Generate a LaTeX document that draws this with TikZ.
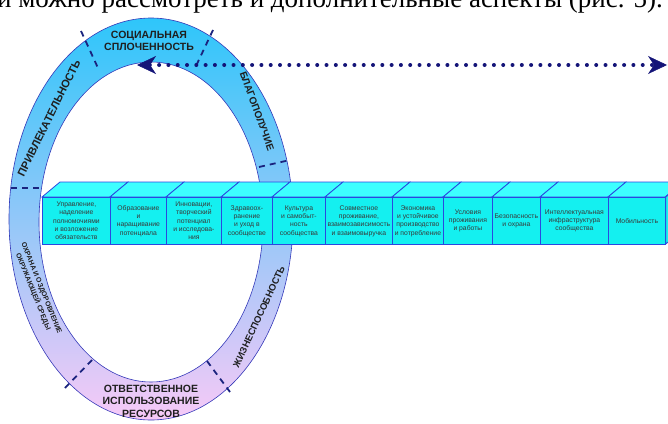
\documentclass[tikz,border=0pt]{standalone}
\usepackage{fontspec}
\setmainfont{Liberation Sans}
\newfontfamily\pageserif{Liberation Serif}
\usetikzlibrary{arrows.meta}
\definecolor{ringtop}{HTML}{2EC6FA}
\definecolor{ringmid}{HTML}{B2B9F7}
\definecolor{ringbot}{HTML}{F7C9F7}
\definecolor{ringline}{HTML}{3438B8}
\definecolor{dashnavy}{HTML}{1A237E}
\definecolor{boxfront}{HTML}{14F0F0}
\definecolor{boxtop}{HTML}{3DFFFF}
\definecolor{boxline}{HTML}{2A48E0}
\definecolor{arrownavy}{HTML}{141478}

\tikzset{
  ringlabel/.style={font=\fontsize{10.5}{12.5}\selectfont\bfseries, text=black!88, align=center, inner sep=0pt},
  sepline/.style={dashnavy, line width=1.8pt, dash pattern=on 6pt off 5pt},
  boxface/.style={draw=boxline, line width=0.8pt, fill=boxfront, minimum height=47pt, inner sep=1pt,
    align=center, font=\fontsize{6.8}{8.3}\selectfont, text=black!78, anchor=north west},
  boxlid/.style={draw=boxline, line width=0.8pt, fill=boxtop},
  dotarrow/.style={arrownavy, line width=4pt, line cap=round, dash pattern=on 0pt off 9.3pt,
    {Stealth[length=19pt,width=18pt,inset=6pt,line width=0.5pt]}-{Stealth[length=19pt,width=18pt,inset=6pt,line width=0.5pt]}}
}

\begin{document}
\begin{tikzpicture}[x=1pt,y=-1pt]
  \useasboundingbox (0,0) rectangle (668,423);
  \clip (0,0) rectangle (668,423);

  \node[font=\pageserif\fontsize{27}{30}\selectfont, anchor=base east, inner sep=0pt] (pageline) at (663,7)
    {и можно рассмотреть и дополнительные аспекты (рис. 5).};

  \shade[top color=ringtop, middle color=ringmid, bottom color=ringbot, even odd rule]
    (151,219) ellipse [x radius=142, y radius=201] (151,222) ellipse [x radius=112, y radius=160];
  \draw[ringline, line width=0.6pt] (151,219) ellipse [x radius=142, y radius=201];
  \draw[ringline, line width=0.6pt] (151,222) ellipse [x radius=112, y radius=160];

  \draw[sepline] (81,31) -- (98,68);
  \draw[sepline] (213,30) -- (196,66);
  \draw[sepline] (259,167) -- (290,160);
  \draw[sepline] (11,188) -- (40,188);
  \draw[sepline] (92,360) -- (65,388);
  \draw[sepline] (207,361) -- (230,392);

  \node[ringlabel] (lsoc) at (149,41) {СОЦИАЛЬНАЯ\\СПЛОЧЕННОСТЬ};
  \node[ringlabel, font=\fontsize{11}{12}\selectfont\bfseries, rotate=63.6] (lpriv) at (49,118) {ПРИВЛЕКАТЕЛЬНОСТЬ};
  \node[ringlabel, font=\fontsize{10}{12}\selectfont\bfseries, rotate=-70] (lblag) at (257,111) {БЛАГОПОЛУЧИЕ};
  \node[ringlabel, font=\fontsize{7}{9}\selectfont\bfseries, rotate=-68] (lohr) at (37,290) {ОХРАНА И ОЗДОРОВЛЕНИЕ\\ОКРУЖАЮЩЕЙ СРЕДЫ};
  \node[ringlabel, font=\fontsize{9.5}{12}\selectfont\bfseries, rotate=65] (lzhiz) at (259,317) {ЖИЗНЕСПОСОБНОСТЬ};
  \node[ringlabel] (lotv) at (151,401) {ОТВЕТСТВЕННОЕ\\ИСПОЛЬЗОВАНИЕ\\РЕСУРСОВ};

  \coordinate (arrowL) at (137,65);
  \coordinate (arrowR) at (667,65);
  \draw[dotarrow] (arrowL) -- (arrowR);

  \foreach \n/\xa/\xb/\txt in {
      1/42/110/{Управление,\\наделение\\полномочиями\\и возложение\\обязательств},
      2/110/166/{Образование\\и\\наращивание\\потенциала},
      3/166/221/{Инновации,\\творческий\\потенциал\\и исследова-\\ния},
      4/221/272/{Здравоох-\\ранение\\и уход в\\сообществе},
      5/272/325/{Культура\\и самобыт-\\ность\\сообщества},
      6/325/392/{Совместное\\проживание,\\взаимозависимость\\и взаимовыручка},
      7/392/443/{Экономика\\и устойчивое\\производство\\и потребление},
      8/443/492/{Условия\\проживания\\и работы},
      9/492/540/{Безопасность\\и охрана},
      10/540/608/{Интеллектуальная\\инфраструктура\\сообщества},
      11/608/665/{Мобильность}} {
    \pgfmathsetmacro\bw{\xb-\xa}
    \draw[boxlid] (\xa,197) -- ++(18,-15) -- ++(\bw,0) -- ++(-18,15) -- cycle;
    \node[boxface, minimum width=\bw pt] (b\n) at (\xa,197) {\txt};
  }
  \draw[boxlid, fill=boxfront] (b11.north east) -- ++(18,-15) -- ++(0,47) -- ++(-18,15) -- cycle;
\end{tikzpicture}
\end{document}
